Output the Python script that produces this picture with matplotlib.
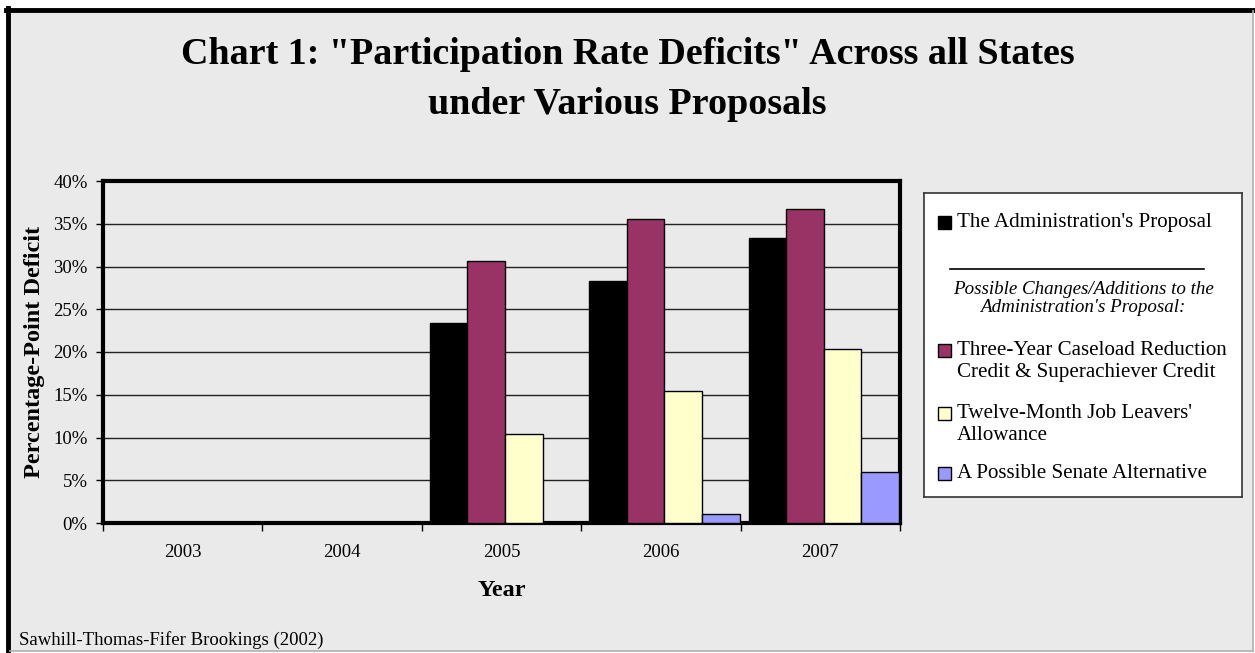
import matplotlib
matplotlib.use("Agg")
import matplotlib.pyplot as plt
from matplotlib.patches import Rectangle
from matplotlib.lines import Line2D
import numpy as np

plt.rcParams["font.family"] = ["Liberation Serif", "DejaVu Serif"]

years = ["2003", "2004", "2005", "2006", "2007"]
series_names = [
    "The Administration's Proposal",
    "Three-Year Caseload Reduction\nCredit & Superachiever Credit",
    "Twelve-Month Job Leavers'\nAllowance",
    "A Possible Senate Alternative",
]
admin = [0.0, 0.0, 23.4, 28.3, 33.3]
three_year = [0.0, 0.0, 30.6, 35.5, 36.7]
twelve_month = [0.0, 0.0, 10.4, 15.4, 20.3]
senate = [0.0, 0.0, 0.0, 1.0, 6.0]
colors = ["#000000", "#993366", "#FFFFCC", "#9999FF"]
yticks = [0, 5, 10, 15, 20, 25, 30, 35, 40]

bg = "#EAEAEA"
W, H = 1255, 653
fig = plt.figure(figsize=(W / 100, H / 100), dpi=100)
fig.patch.set_facecolor("white")

# outer panel
fig.patches.append(Rectangle((6 / W, 1 - 651 / H), 1247 / W, 643 / H,
                             transform=fig.transFigure, facecolor=bg,
                             edgecolor="none", zorder=-2))
fig.lines.append(Line2D([8 / W, 8 / W], [1 - 651 / H, 1 - 8 / H], transform=fig.transFigure,
                        color="black", lw=3.5, zorder=1))
fig.lines.append(Line2D([6 / W, 1253 / W], [1 - 9.5 / H, 1 - 9.5 / H], transform=fig.transFigure,
                        color="black", lw=3.5, zorder=1))
fig.lines.append(Line2D([1253 / W, 1253 / W], [1 - 651 / H, 1 - 11 / H], transform=fig.transFigure,
                        color="#B0B0B0", lw=1.2, zorder=1))
fig.lines.append(Line2D([10 / W, 1253 / W], [1 - 651 / H, 1 - 651 / H], transform=fig.transFigure,
                        color="#B0B0B0", lw=1.2, zorder=1))

fig.text(0.5, 1 - 55 / H, "Chart 1: \"Participation Rate Deficits\" Across all States",
         ha="center", va="center", fontsize=27.4, fontweight="bold")
fig.text(0.5, 1 - 105 / H, "under Various Proposals",
         ha="center", va="center", fontsize=27.4, fontweight="bold")
fig.text(19 / W, 1 - 640 / H, "Sawhill-Thomas-Fifer Brookings (2002)",
         ha="left", va="center", fontsize=13.5)

ax = fig.add_axes([103 / W, 1 - 523 / H, 797 / W, 342 / H])
ax.set_facecolor(bg)
x = np.arange(len(years))
w = 0.236
start = -0.45
for k, vals in enumerate([admin, three_year, twelve_month, senate]):
    ax.bar(x + start + w * (k + 0.5), vals, width=w, color=colors[k],
           edgecolor="black", linewidth=1.0, zorder=3)

ax.set_xlim(-0.5, len(years) - 0.5)
ax.set_ylim(0, 40)
ax.set_yticks(yticks)
ax.set_yticklabels([f"{t}%" for t in yticks], fontsize=13.5)
ax.yaxis.grid(True, color="#222222", lw=1.0, zorder=1)
ax.set_axisbelow(True)
ax.set_xticks(np.arange(len(years) + 1) - 0.5)
ax.set_xticklabels([])
ax.set_xticks(x, minor=True)
ax.set_xticklabels(years, minor=True, fontsize=13.5)
ax.tick_params(axis="x", which="minor", length=0, pad=15)
ax.tick_params(axis="x", which="major", length=6, width=1, direction="out")
ax.tick_params(axis="y", length=5, width=1, direction="out", pad=6)
for s in ax.spines.values():
    s.set_linewidth(3)
    s.set_color("black")
ax.set_xlabel("Year", fontsize=17.5, fontweight="bold", labelpad=14)
ax.set_ylabel("Percentage-Point Deficit", fontsize=17.5, fontweight="bold", labelpad=6)

# legend box
lw_, lh_ = 318, 304
lax = fig.add_axes([924 / W, 1 - 497 / H, lw_ / W, lh_ / H])
lax.set_xlim(0, lw_)
lax.set_ylim(lh_, 0)
lax.set_facecolor("white")
lax.set_xticks([])
lax.set_yticks([])
for s in lax.spines.values():
    s.set_linewidth(1.2)
    s.set_color("#333333")

entry_y = [29, 168.5, 231.5, 280]
for k, name in enumerate(series_names):
    nlines = name.count("\n")
    sq_y = entry_y[k] - (11.5 if nlines else 0)
    lax.add_patch(Rectangle((14, sq_y - 6.5), 13, 13, facecolor=colors[k],
                            edgecolor="black", lw=1))
    lax.text(33, entry_y[k], name, ha="left", va="center", fontsize=15.1,
             linespacing=1.2)
lax.plot([26, 280], [76, 76], color="black", lw=1.2)
lax.text(159, 105.5, "Possible Changes/Additions to the\nAdministration's Proposal:",
         ha="center", va="center", fontsize=13.7, style="italic", linespacing=1.15)

fig.savefig("out.png", dpi=100)
